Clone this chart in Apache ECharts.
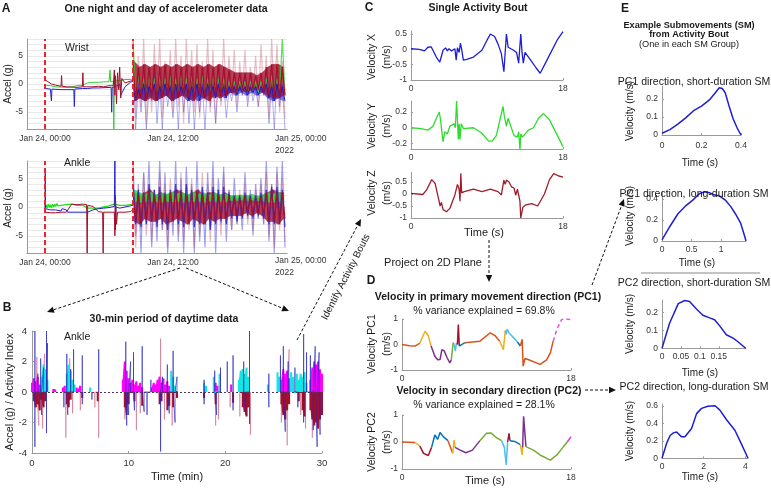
<!DOCTYPE html>
<html><head><meta charset="utf-8">
<script src="https://cdn.jsdelivr.net/npm/echarts@6.0.0/dist/echarts.min.js"></script>
<style>html,body{margin:0;padding:0;background:#fff}#c{width:771px;height:488px}</style>
</head><body><div id="c"></div>
<script>
// ================= DATA =================
// Panel A : hours since Jan 24 00:00 (night section = [hour, g])
const wristNightBlue = [[0,-0.8],[0.5,-0.9],[0.6,-3],[0.65,-0.9],[1.5,-1],[2,-1],[2.7,-1],[2.75,-4],[2.8,-0.9],[3.5,-0.8],[4,-0.8],[4.5,-0.7],[5,-0.7],[6.2,-0.6],[6.25,-5],[6.3,-0.6],[6.6,-0.5],[7,0],[7.1,-2],[7.5,-0.5],[8,0.3],[8.25,0.5]];
const wristNightRed = [[0,0.8],[0.2,0.5],[0.6,0],[1,-0.2],[1.5,-0.4],[1.55,1.5],[1.6,-0.4],[2,-0.5],[3,-0.6],[3.5,-0.5],[3.55,2],[3.6,-0.5],[4.5,-0.5],[5,-0.4],[5.5,-0.5],[6,-0.3],[6.4,-0.3],[6.5,2.5],[6.55,-2],[6.6,1.5],[6.7,-3.5],[6.8,2],[6.9,-1],[7.0,3],[7.1,-2.5],[7.2,1],[7.5,0.2],[8,0.5],[8.25,0.6]];
const wristNightGreen = [[0,-0.2],[0.5,-0.3],[1,-0.5],[2,-0.6],[2.5,-0.5],[3,-0.3],[3.5,-0.2],[4,0.2],[4.5,0.3],[5,0.3],[5.5,0.4],[6,0.4],[6.1,2.5],[6.15,0.4],[6.4,0.5],[6.45,-8],[6.5,0.5],[7,0.6],[7.5,0.8],[8,0.8],[8.25,0.7]];
const ankleNightGreen = [[0,0],[0.1,0.4],[0.2,-0.2],[0.3,0.5],[0.4,-0.1],[0.5,0.4],[0.6,-0.2],[0.7,0.5],[0.8,0],[0.9,0.5],[1.0,0.1],[1.1,0.6],[1.2,0.2],[1.3,0.5],[1.5,0.3],[2,0.4],[2.5,0.5],[3,0.3],[3.5,0.3],[4,-0.2],[5,-0.2],[5.5,0],[6,0.2],[6.5,0.5],[7,0.3],[7.5,0.3],[8,0.4],[8.25,0.5]];
const ankleNightBlue = [[0,-0.3],[0.02,6],[0.05,-0.3],[0.5,-0.5],[1,-0.5],[1.5,-0.7],[1.6,-0.3],[2,-0.5],[2.1,-0.9],[3,-0.9],[4,-0.9],[4.5,-0.5],[5,-0.3],[5.5,-0.2],[6,-0.1],[6.5,0.1],[6.55,8],[6.6,-4],[6.65,0],[7,-0.2],[7.5,0],[8,0.2],[8.25,0.3]];
const ankleNightRed = [[0,-0.9],[0.5,-1],[1,-1],[1.5,-0.9],[2,-0.9],[2.5,0.5],[3,0.4],[3.5,0.5],[3.9,0.4],[3.95,-8],[4,0.3],[4.5,0.1],[5,-0.8],[5.4,-0.9],[5.45,-8],[5.5,-0.9],[6,-0.9],[6.5,-0.9],[6.55,-5],[6.6,2],[6.7,-3],[6.8,-0.9],[7.5,-0.9],[8,-0.8],[8.25,-0.5]];
// Daytime samples: start 08:15, one value every 15 min
const dayStart = 8.25, dayStep = 0.25;
const wristRedLight = [8,-6,5,-4,8,-7,3,-5,7,-3, 8,-6,4,-2,6,-5,8,-4,5,-7, 8,-3,6,-5,7,-6,4,-3,8,-5, 6,-7,3,-4,8,-3,5,-2,6,-4, 4,-2,6,-3,3,-2,5,-4,7,-2, 5,-6,8,-3,7,-5,4,-6];
const wristRedCore = [4,-3,3,-2.5,3.5,-3,3,-2.5,3.5,-3, 3,-2.5,3.5,-2,3,-3,3.5,-2.5,3,-2, 3.5,-2.5,3,-3,3.5,-2,3,-2.5,3.5,-3, 3,-2,3.5,-2.5,3,-2,2.5,-1.5,2,-1.5, 2,-1,2,-1.5,2,-1,1.5,-1,2,-1.5, 3,-2,3.5,-2.5,3.5,-2.5,3,-2];
const wristBlueLight = [3,-8,0,-5,1,-8,-1,-3,2,-7, 0,-8,1,-4,-1,-6,0,-8,2,-5, 0,-7,1,-8,-1,-5,0,-8,1,-4, 0,-7,1,-3,0,-6,-1,-3,0,-5, 0,-2,1,-4,0,-3,-1,-4,0,-2, 1,-7,0,-8,2,-4,0,-8];
const wristBlueCore = [0,-3,-1,-2.5,0,-3,-0.5,-2,0,-3, -0.5,-2.5,0,-2,-0.5,-3,0,-2.5,-0.5,-2, 0,-3,-0.5,-2.5,0,-3,-0.5,-2.5,0,-2, -0.5,-2.5,0,-2,-0.5,-2.5,-0.5,-1.5,-0.5,-2, -0.5,-1.5,-0.5,-2,-0.5,-1.5,-0.5,-2,-0.5,-1.5, 0,-2.5,-0.5,-3,0,-2.5,-0.5,-3];
const wristGreen = [8,-2,1.5,-1.5,1,-2,1.5,-1,1,-2, 1.5,-1.5,1,-1,1.5,-2,1,-1.5,1.5,-1, 1,-1.5,1.5,-2,1,-1,1.5,-1.5,1,-2, 1.5,-1,1,-1.5,1,-1,0.5,-1,0.5,-1.5, 0.5,-1,0.5,-1.5,0.5,-1,0.5,-1.5,0.5,-1, 1,-1.5,1.5,-2,1,-1.5,8,-2];
const ankleBlueLight = [8,-5,4,-8,6,-3,8,-7,3,-6, 8,-4,6,-8,2,-5,8,-6,5,-8, 7,-3,4,-8,8,-6,3,-7,6,-4, 8,-8,5,-3,7,-6,3,-4,5,-3, 2,-4,6,-2,3,-5,4,-2,5,-3, 8,-6,4,-8,7,-3,8,-7];
const ankleBlueCore = [4,-3,3,-3.5,2.5,-3,4,-2.5,3,-3.5, 3.5,-3,2.5,-4,3,-2.5,4,-3,3,-3.5, 4,-2.5,3,-3.5,2.5,-3,3.5,-3,2.5,-4, 3.5,-3,3,-2.5,3.5,-3,2.5,-2,2,-2.5, 2,-2,2.5,-1.5,2,-2,2,-1.5,2.5,-2, 3,-3,3.5,-3,3.5,-2.5,3,-3.5];
const ankleGreen = [3,1,2.5,0.8,2.2,1,2.6,0.9,2.1,1, 2.5,0.8,2.2,1,2.6,0.9,2.3,1,2.5,0.8, 2.1,1,2.6,0.9,2.2,1,2.5,0.8,2.1,1, 2.5,0.9,2.1,1,2.3,0.9,2,1.1,2,1.1, 2.1,1.2,1.9,1.1,2.2,1.2,1.9,1.1,2.1,1.1, 2.5,0.9,2.2,0.8,2.6,1,2.1,0.8];
const ankleRedLight = [5,-7,3,-4,6,-5,4,-6,3,-3, 6,-4,4,-7,5,-3,3,-5,6,-6, 4,-4,5,-7,3,-5,6,-3,4,-6, 5,-4,3,-5,6,-3,3,-4,2,-3, 3,-2,4,-3,2,-4,3,-2,4,-3, 6,-5,4,-7,6,-4,5,-6];
const ankleRedCore = [2.5,-2.5,2,-3,2.5,-2,3,-2.5,2,-2.5, 2.5,-2,2,-3,2.5,-2.5,3,-2,2.5,-2.5, 2,-3,2.5,-2,3,-2.5,2,-3,2.5,-2, 2.5,-2.5,2,-2,2.5,-2,2,-1.5,1.5,-1.5, 1.5,-1.5,2,-1,1.5,-1.5,1.5,-1,2,-1.5, 2.5,-2.5,3,-2.5,2.5,-3,2.5,-2];
const dashedEventHours = [0, 8.25];
const aTickHours = [0, 12];
const aTickLabels = ['Jan 24, 00:00', 'Jan 24, 12:00'];

// Panel B : [minute, value]
const bBlue = [[0.3,4],[0.3,-3.6],[0.6,1.2],[0.9,2.2],[1.0,-1.5],[1.2,1.6],[1.5,4],[1.5,-2.7],[1.6,3.2],[3.3,-1],[3.6,2.5],[3.7,-1.5],[4.0,1.5],[4.3,2.8],[5.2,2.4],[5.2,-0.8],[6.2,-0.5],[6.9,2.8],[9.7,3.3],[9.8,-2.2],[10.0,-1.5],[10.2,2],[10.5,2.6],[10.6,-1.2],[11.4,3],[11.6,-1.3],[11.9,-1.5],[12.3,0.8],[13.3,-3.9],[13.5,1],[14.0,1.8],[14.2,-1.4],[14.6,2.7],[14.8,-2],[15.0,1],[17.8,0.8],[17.8,-0.8],[18.9,1.4],[19.1,-1.5],[19.5,1.6],[20.2,2],[20.8,2.4],[20.8,-1.2],[21.9,2],[22.1,-1.5],[22.5,4],[22.5,-2.1],[24.5,1.2],[24.5,-1],[25.7,2.4],[26.0,3],[26.2,-2.6],[26.5,2],[27.2,1.6],[27.5,-1],[28.1,3.8],[28.1,-2],[28.4,2.6],[28.8,2.4],[29.1,-2.5],[29.3,3],[29.5,-3.6],[29.7,2.6],[29.8,-2.8]];
const bPink = [[0.5,2.3],[0.7,-2.2],[1.1,-2.4],[1.3,2.5],[3.5,-3],[3.9,2.2],[4.2,-1.4],[5.0,-1.2],[6.5,-1],[6.9,-3],[9.6,-1.8],[10.8,-2.5],[11.2,-1.4],[13.3,3.5],[13.7,-1.8],[14.5,-2.2],[19.0,-2.2],[19.3,-1.8],[20.5,-1],[21.5,-1.6],[22.6,-2.8],[25.8,-2],[26.4,-3.5],[26.6,2.8],[27.8,-1.5],[28.3,-2.4],[29.0,-3],[29.6,-2]];
const bMagenta = [[0.0,0.6],[0.2,0.9],[0.4,0.7],[0.6,1.0],[0.8,0.5],[1.0,0.4],[2.2,0.2],[2.4,0.15],[3.2,0.3],[3.4,0.4],[4.6,0.3],[4.8,0.2],[5.0,0.4],[9.4,0.8],[9.6,2.0],[9.8,1.4],[10.0,0.9],[10.2,0.6],[10.4,0.8],[10.6,0.5],[10.8,0.7],[11.0,0.4],[11.2,0.6],[11.4,0.3],[12.4,0.3],[12.6,0.6],[12.8,0.5],[13.0,0.8],[13.2,1.0],[13.4,0.6],[13.6,0.9],[13.8,0.5],[14.0,0.7],[14.2,0.4],[19.0,0.6],[19.2,0.4],[20.6,0.5],[25.8,0.8],[26.0,1.5],[26.2,1.2],[26.4,1.4],[26.6,0.9],[26.8,0.5],[28.8,0.8],[29.0,1.6],[29.2,2.0],[29.4,1.8],[29.6,2.0],[29.8,1.5],[30.0,1.2]];
const bCyan = [[1.0,1.0],[1.2,1.8],[1.4,1.5],[1.6,0.8],[3.6,1.2],[3.8,1.8],[4.0,1.4],[4.2,0.8],[4.4,0.5],[6.0,0.3],[14.4,1.4],[14.6,1.0],[14.8,0.4],[17.8,0.6],[18.0,0.4],[18.8,1.0],[19.4,1.2],[21.4,0.8],[21.6,1.4],[21.8,1.5],[22.0,1.2],[22.2,1.6],[22.4,1.0],[24.4,0.5],[25.4,1.3],[25.6,1.0],[26.8,1.3],[27.0,1.0],[27.4,1.2],[27.6,0.8],[27.8,1.2],[28.0,1.0],[28.2,1.3],[28.4,0.6]];
const bDarkRed = [[0.2,-0.6],[0.4,-1.0],[0.6,-0.8],[0.8,-1.2],[1.0,-0.5],[1.2,-1.0],[1.4,-0.6],[3.6,-0.8],[3.8,-1.0],[4.0,-0.5],[5.2,-0.4],[6.8,-0.6],[9.6,-1.0],[9.8,-1.5],[10.0,-0.8],[10.6,-0.6],[11.4,-0.9],[13.2,-0.8],[13.4,-0.6],[14.0,-1.2],[14.2,-0.9],[14.6,-1.0],[15.0,-0.4],[17.8,-0.4],[19.0,-0.8],[20.8,-0.7],[21.8,-1.0],[22.0,-1.3],[22.2,-1.6],[22.4,-1.0],[25.8,-0.8],[26.0,-1.5],[26.2,-1.8],[26.4,-1.2],[26.6,-0.8],[27.6,-0.6],[28.0,-1.2],[28.2,-1.6],[28.8,-1.2],[29.0,-1.8],[29.2,-2.2],[29.4,-2.0],[29.6,-2.4],[29.8,-1.8],[30.0,-1.5]];

// Panel C : [seconds, m/s]
const velX = [[0,0.02],[1,0],[1.6,-0.05],[2,0.07],[2.4,0.08],[3,-0.25],[3.4,-0.42],[3.8,-0.03],[4.1,0.05],[4.3,-0.05],[4.5,0.02],[4.8,-0.05],[5.2,0.02],[5.35,-0.35],[5.5,0.05],[5.7,-0.1],[5.85,0.2],[6.0,0],[6.2,-0.35],[6.6,-0.33],[7.4,-0.25],[8.4,-0.03],[9.0,0.3],[9.4,0.5],[9.9,0.42],[10.3,0.18],[10.7,-0.14],[11.0,-0.73],[11.3,0.5],[11.5,0.07],[12.1,-0.02],[12.5,-0.1],[12.75,-0.45],[13.0,0.5],[13.15,-0.1],[13.3,-0.45],[13.5,-0.1],[14.3,-0.4],[14.8,-0.6],[15.3,-0.78],[16.1,-0.35],[17.3,0.3],[18,0.58]];
const velY = [[0,0],[1.2,-0.01],[2,-0.03],[2.6,0.02],[3,0.12],[3.35,0.2],[3.5,0.1],[3.65,-0.05],[3.8,-0.18],[4.0,-0.05],[4.3,-0.08],[4.6,0.02],[5.1,0.05],[5.25,0.0],[5.4,0.34],[5.5,0.1],[5.6,-0.15],[5.7,0.05],[5.8,-0.15],[5.95,0.05],[6.2,-0.01],[7.4,0],[8.4,-0.07],[9.2,-0.17],[9.6,-0.17],[10.1,-0.1],[10.9,0.27],[11.05,0.15],[11.3,0.02],[11.5,0.12],[11.7,0.1],[12.2,-0.1],[12.6,-0.12],[12.75,-0.05],[12.9,-0.28],[13.0,-0.08],[13.2,-0.12],[13.9,-0.03],[14.5,0],[15.1,0.12],[15.7,0.18],[16.4,0.1],[17.3,-0.09],[18,-0.24]];
const velZ = [[0,0.03],[1.4,-0.02],[1.85,0.17],[2.45,0.6],[2.85,0.45],[3.25,-0.18],[3.45,-0.5],[3.6,-0.35],[3.8,-0.65],[4.2,-0.74],[4.6,-0.6],[5.2,-0.04],[5.5,0.4],[5.7,0.2],[5.8,-0.3],[5.9,0.86],[6.0,0.05],[6.3,0.1],[7.4,0.2],[8.4,0.1],[9.4,0.2],[10.3,0.1],[10.7,-0.04],[11.0,0.58],[11.15,0.4],[11.3,0.58],[11.6,0.5],[11.9,0.3],[12.2,0.25],[12.4,-0.05],[12.6,0.2],[12.9,-0.3],[13.0,-1.0],[13.25,-0.55],[13.6,-0.45],[14.3,-0.4],[15.0,-0.5],[15.8,0],[16.4,0.6],[16.9,0.85],[17.5,0.75],[18,0.7]];

// Panel D : [seconds, m/s] and SM-group segments [t0, t1, group]
const pc1 = [[0,0],[0.8,-0.05],[1.4,-0.06],[1.9,0.05],[2.45,0.52],[2.8,0.35],[3.1,-0.06],[3.5,-0.46],[3.8,-0.6],[4.05,-0.59],[4.25,-0.2],[4.5,-0.25],[4.8,-0.52],[5.1,-0.72],[5.25,-0.6],[5.45,0.07],[5.55,0.0],[5.68,-0.26],[5.8,0.05],[5.9,0.0],[6.0,0.78],[6.1,-0.06],[6.3,0.0],[6.7,0.07],[8.3,0.13],[9.4,0.46],[9.9,0.35],[10.4,0.13],[10.8,-0.2],[11.0,0.55],[11.1,0.4],[11.2,0.6],[11.4,0.45],[11.9,0.26],[12.3,0.1],[12.6,-0.06],[12.8,0.2],[12.9,-0.85],[13.1,-0.55],[13.5,-0.6],[14.7,-0.78],[15.4,-0.6],[15.8,-0.33],[16.1,0.13],[16.5,0.6],[17.0,0.98],[17.5,1.0],[18,0.98]];
const pc1Segments = [[0,1.9,'orange'],[1.9,3.1,'yellow'],[3.1,5.25,'purple'],[5.25,5.55,'green'],[5.55,5.9,'lightblue'],[5.9,6.1,'darkred'],[6.1,6.7,'blue'],[6.7,10.4,'orange'],[10.4,11.0,'yellow'],[11.0,12.3,'lightblue'],[12.3,12.6,'blue'],[12.6,16.1,'orange'],[16.1,18,'pink']];
const pc2 = [[0,0],[1.4,-0.02],[1.9,-0.15],[2.3,-0.42],[2.8,-0.5],[3.15,-0.2],[3.5,0.26],[3.8,0.1],[4.05,0.35],[4.4,0.2],[4.9,0.05],[5.4,-0.42],[5.55,0.07],[5.65,-0.2],[6.2,-0.3],[6.8,-0.4],[7.5,-0.3],[8.3,0.05],[9.0,0.32],[9.5,0.33],[10.1,0.15],[10.6,0.05],[10.9,-0.2],[11.1,-0.85],[11.25,0.0],[11.4,0.32],[11.5,0.05],[12.0,0.02],[12.6,-0.1],[12.8,-0.48],[12.85,-0.2],[12.95,0.95],[13.2,-0.17],[14.0,-0.3],[14.7,-0.48],[15.8,-0.67],[16.5,-0.48],[17.2,-0.17],[17.6,0.0],[18,0.2]];
const pc2Segments = [[0,1.4,'orange'],[1.4,1.9,'yellow'],[1.9,3.15,'darkred'],[3.15,4.9,'blue'],[4.9,5.4,'orange'],[5.4,5.65,'yellow'],[5.65,8.3,'purple'],[8.3,10.6,'green'],[10.6,11.25,'lightblue'],[11.25,11.5,'darkred'],[11.5,12.6,'blue'],[12.6,12.85,'yellow'],[12.85,13.2,'purple'],[13.2,17.6,'green'],[17.6,18,'magenta']];

// Panel E : [seconds, m/s]
const smPC1Short = [[0,0.01],[0.04,0.03],[0.08,0.06],[0.12,0.095],[0.16,0.135],[0.2,0.16],[0.24,0.195],[0.27,0.235],[0.29,0.262],[0.305,0.258],[0.32,0.235],[0.34,0.16],[0.36,0.09],[0.38,0.04],[0.4,0]];
const smPC1Long = [[0,0.01],[0.13,0.136],[0.27,0.26],[0.41,0.34],[0.52,0.39],[0.63,0.45],[0.72,0.47],[0.8,0.46],[0.88,0.44],[0.97,0.43],[1.07,0.39],[1.16,0.33],[1.24,0.26],[1.33,0.17],[1.4,0.04],[1.42,0]];
const smPC2Short = [[0,0],[0.02,0.14],[0.043,0.25],[0.06,0.267],[0.073,0.262],[0.091,0.22],[0.108,0.185],[0.126,0.17],[0.139,0.16],[0.153,0.124],[0.17,0.076],[0.188,0.057],[0.2,0.038],[0.221,0]];
const smPC2Long = [[0,0],[0.22,0.17],[0.39,0.26],[0.55,0.29],[0.7,0.3],[0.94,0.245],[1.1,0.245],[1.42,0.34],[1.66,0.51],[1.9,0.57],[2.2,0.595],[2.55,0.6],[2.78,0.55],[3.1,0.44],[3.5,0.32],[3.8,0.17],[4.13,0]];

// ================= RENDER =================
const F = '"Liberation Sans", Arial, Helvetica, sans-serif';
const AX = '#9a9a9a', TX = '#333';
const C = {orange:'#D95319', yellow:'#EDB120', purple:'#7E2F8E', green:'#77AC30', lightblue:'#4DBEEE', blue:'#0072BD', darkred:'#A2142F', pink:'#e54de5', magenta:'#e033e0'};

function merge(a, b) { const o = Object.assign({}, a); for (const k in b) { o[k] = (b[k] && typeof b[k] === 'object' && !Array.isArray(b[k]) && typeof a[k] === 'object') ? merge(a[k], b[k]) : b[k]; } return o; }
function axis(gi, o) {
  return merge({type:'value', gridIndex:gi,
    axisLine:{show:true, onZero:false, lineStyle:{color:AX, width:1}},
    axisTick:{show:true, inside:true, length:2, lineStyle:{color:AX}},
    axisLabel:{color:TX, fontSize:8.5, fontFamily:F, margin:4, hideOverlap:false},
    splitLine:{show:false}}, o);
}
const grids = [
  {left:27, top:39, width:260, height:90},
  {left:27, top:161, width:260, height:92},
  {left:32, top:331, width:290, height:122},
  {left:411, top:31, width:152, height:49},
  {left:411, top:101, width:152, height:48},
  {left:411, top:172.4, width:152, height:45.6},
  {left:402, top:319, width:169, height:51},
  {left:402, top:415, width:169, height:54},
  {left:662, top:86.4, width:79, height:48.6},
  {left:662, top:191.7, width:84, height:49.3},
  {left:662, top:300, width:84, height:48.3},
  {left:662, top:404, width:86, height:54.3}
];
const aX = gi => axis(gi, {min:-1.69, max:22.69, axisTick:{show:false}, axisLabel:{customValues:aTickHours, formatter:v => aTickLabels[aTickHours.indexOf(v)], margin:5}});
const aY = gi => axis(gi, {min:-8, max:8, interval:1, axisTick:{show:false}, axisLabel:{formatter:v => (v % 5 === 0 ? String(v) : '')}, splitLine:{show:true, lineStyle:{color:'#e9e9e9', width:1}}});
const cX = gi => axis(gi, {min:0, max:18, axisLabel:{customValues:[0,18], margin:4}, axisTick:{customValues:[0,18]}});
const xAxes = [aX(0), aX(1),
  axis(2, {min:0, max:30, interval:10, axisLabel:{fontSize:9.5, margin:5}}),
  cX(3), cX(4), cX(5), cX(6), cX(7),
  axis(8, {min:0, max:0.4, axisLabel:{customValues:[0,0.2,0.4], margin:6}, axisTick:{customValues:[0,0.2,0.4]}}),
  axis(9, {min:0, max:1.42, axisLabel:{customValues:[0,0.5,1], margin:4}, axisTick:{customValues:[0,0.5,1]}}),
  axis(10, {min:0, max:0.222, axisLabel:{customValues:[0,0.05,0.1,0.15], margin:4}, axisTick:{customValues:[0,0.05,0.1,0.15]}}),
  axis(11, {min:0, max:4.13, axisLabel:{customValues:[0,2,4], margin:4}, axisTick:{customValues:[0,2,4]}})
];
const cv = (gi, mn, mx, vals, extra) => axis(gi, merge({min:mn, max:mx, axisLabel:{customValues:vals}, axisTick:{customValues:vals}}, extra || {}));
const yAxes = [aY(0), aY(1),
  axis(2, {min:-4, max:4, interval:2, axisLabel:{fontSize:9.5, margin:5}}),
  cv(3, -1, 0.6, [-1,-0.5,0,0.5]),
  cv(4, -0.27, 0.34, [-0.2,0,0.2]),
  cv(5, -1, 0.9, [-1,-0.5,0,0.5]),
  cv(6, -1, 1, [-1,0,1]),
  cv(7, -1, 1, [-1,0,1]),
  cv(8, 0, 0.27, [0,0.1,0.2]),
  cv(9, 0, 0.47, [0,0.2,0.4]),
  cv(10, 0, 0.27, [0,0.1,0.2]),
  cv(11, 0, 0.62, [0,0.2,0.4,0.6])
];

function ls(gi, data, color, width, extra) {
  return merge({type:'line', xAxisIndex:gi, yAxisIndex:gi, data:data, symbol:'none', showSymbol:false, silent:true, clip:true, connectNulls:false, lineStyle:{color:color, width:width}}, extra || {});
}
const dayPts = arr => arr.map((v, i) => [dayStart + dayStep * i, v]);
// dense-signal envelope: each (high, low) pair of a day array becomes a band vertex; polygons via the axes' scales
function band(gi, arr, color, op) {
  const pts = [];
  for (let k = 0; k + 1 < arr.length; k += 2) {
    const t = dayStart + dayStep * (k + 0.5), a = arr[k], b = arr[k + 1];
    pts.push([t, Math.min(a, b), Math.max(a, b)]);
  }
  const data = [];
  for (let i = 0; i + 1 < pts.length; i++) data.push(pts[i].concat(pts[i + 1]));
  return {type:'custom', xAxisIndex:gi, yAxisIndex:gi, silent:true, clip:true, data:data,
    encode:{x:[0,3], y:[1,2,4,5]},
    renderItem:(params, api) => ({type:'polygon', shape:{points:[
      api.coord([api.value(0), api.value(2)]), api.coord([api.value(3), api.value(5)]),
      api.coord([api.value(3), api.value(4)]), api.coord([api.value(0), api.value(1)])]},
      style:{fill:color, opacity:op, stroke:color, lineWidth:0.6}})};
}
function spikes(pairs, gap) {
  const s = pairs.slice().sort((a, b) => a[0] - b[0]); const out = []; let prev = null;
  for (const [m, v] of s) { if (prev !== null && m - prev > gap) out.push([m, '-']); out.push([m, 0], [m, v], [m, 0]); prev = m; }
  return out;
}
const redDash = {markLine:{symbol:'none', silent:true, label:{show:false}, animation:false, lineStyle:{color:'#e8262c', type:[5,3], width:2}, data:dashedEventHours.map(h => ({xAxis:h}))}};

const series = [];
// ---- A wrist
series.push(ls(0, dayPts(wristBlueLight), 'rgba(50,50,215,0.38)', 1));
series.push(ls(0, dayPts(wristRedLight), 'rgba(190,70,100,0.35)', 1.2));
series.push(ls(0, dayPts(wristGreen), 'rgba(40,215,40,0.75)', 1.2));
series.push(band(0, wristBlueCore, '#2a2ac8', 0.6));
series.push(ls(0, dayPts(wristBlueCore), '#1c1cc0', 1));
series.push(band(0, wristRedCore, '#a3102c', 0.8));
series.push(ls(0, dayPts(wristRedCore), '#a3102c', 1.2));
series.push(ls(0, wristNightGreen, '#33cc33', 1));
series.push(ls(0, wristNightBlue, '#2222cc', 1));
series.push(ls(0, wristNightRed, '#a3102c', 1, redDash));
// ---- A ankle
series.push(ls(1, dayPts(ankleBlueLight), 'rgba(50,50,215,0.45)', 1.2));
series.push(ls(1, dayPts(ankleRedLight), 'rgba(190,70,100,0.38)', 1.2));
series.push(ls(1, dayPts(ankleBlueCore), 'rgba(30,30,190,0.8)', 1.2));
series.push(band(1, ankleRedCore, '#a3102c', 0.8));
series.push(band(1, ankleGreen, '#2ee02e', 0.85));
series.push(ls(1, dayPts(ankleRedCore), '#a3102c', 1.1));
series.push(ls(1, ankleNightGreen, '#22dd22', 1.3));
series.push(ls(1, ankleNightBlue, '#2222cc', 1));
series.push(ls(1, ankleNightRed, '#a3102c', 1, redDash));
// ---- B
series.push(ls(2, spikes(bPink, 0.6), 'rgba(200,90,120,0.5)', 1));
series.push(ls(2, spikes(bDarkRed, 0.6), '#a3102c', 2));
series.push(ls(2, spikes(bMagenta, 0.6), '#ff00ff', 2));
series.push(ls(2, spikes(bCyan, 0.6), '#10e6e6', 2));
series.push(ls(2, spikes(bBlue, 0.6), 'rgba(40,40,190,0.65)', 1, {markLine:{symbol:'none', silent:true, label:{show:false}, animation:false, lineStyle:{color:'#553355', type:[2,2], width:1}, data:[{yAxis:0}]}}));
// ---- C
series.push(ls(3, velX, '#1d1dd6', 1.3));
series.push(ls(4, velY, '#2edc2e', 1.3));
series.push(ls(5, velZ, '#a01c2c', 1.3));
// ---- D
function segs(gi, data, list) {
  list.forEach(([t0, t1, g]) => {
    const pts = data.filter(p => p[0] >= t0 - 1e-9 && p[0] <= t1 + 1e-9);
    series.push(ls(gi, pts, C[g], 1.5, g === 'pink' ? {lineStyle:{type:[4,3]}} : {}));
  });
}
segs(6, pc1, pc1Segments);
segs(7, pc2, pc2Segments);
// ---- E
series.push(ls(8, smPC1Short, '#1f1fd2', 1.5));
series.push(ls(9, smPC1Long, '#1f1fd2', 1.5));
series.push(ls(10, smPC2Short, '#1f1fd2', 1.5));
series.push(ls(11, smPC2Long, '#1f1fd2', 1.5));

// ---- text & annotations
const G = [];
function txt(x, y, s, size, o) {
  o = o || {};
  G.push({type:'text', x:x, y:y, rotation:o.rot || 0, z:100,
    style:{text:s, font:(o.bold ? 'bold ' : '') + size + 'px ' + F, fill:o.color || '#1a1a1a',
      textAlign:o.align || 'center', align:o.align || 'center', textVerticalAlign:'middle', verticalAlign:'middle', lineHeight:o.lh || size * 1.3}});
}
function arrow(x1, y1, x2, y2) {
  const dx = x2 - x1, dy = y2 - y1, L = Math.hypot(dx, dy), ux = dx / L, uy = dy / L, h = 7, w = 3.2;
  const bx = x2 - ux * h, by = y2 - uy * h;
  G.push({type:'line', z:100, shape:{x1:x1, y1:y1, x2:bx, y2:by}, style:{stroke:'#111', lineWidth:1, lineDash:[3,2]}});
  G.push({type:'polygon', z:100, shape:{points:[[x2, y2], [bx - uy * w, by + ux * w], [bx + uy * w, by - ux * w]]}, style:{fill:'#111'}});
}
const R = Math.PI / 2;
// panel letters
txt(6, 9, 'A', 12, {bold:true}); txt(7, 308, 'B', 12, {bold:true}); txt(369, 8, 'C', 12, {bold:true});
txt(371, 281, 'D', 12, {bold:true}); txt(625, 9, 'E', 12, {bold:true});
// A
txt(166, 9, 'One night and day of accelerometer data', 10.5, {bold:true});
txt(65, 48, 'Wrist', 10.5, {align:'left'}); txt(64, 163, 'Ankle', 10.5, {align:'left'});
txt(8, 84, 'Accel (g)', 10, {rot:R}); txt(8, 208, 'Accel (g)', 10, {rot:R});
txt(275, 139, 'Jan 25, 00:00', 8.5, {align:'left', color:TX}); txt(275, 151, '2022', 8.5, {align:'left', color:TX});
txt(275, 261, 'Jan 25, 00:00', 8.5, {align:'left', color:TX}); txt(275, 273, '2022', 8.5, {align:'left', color:TX});
// B
txt(164, 319, '30-min period of daytime data', 10.5, {bold:true});
txt(64, 337, 'Ankle', 10.5, {align:'left'});
txt(10, 392, 'Accel (g) / Activity Index', 11, {rot:R});
txt(177, 477, 'Time (min)', 11);
// C
txt(478, 8, 'Single Activity Bout', 10.5, {bold:true});
txt(380, 57, 'Velocity X\n(m/s)', 10.5, {rot:R, lh:15});
txt(380, 126, 'Velocity Y\n(m/s)', 10.5, {rot:R, lh:15});
txt(380, 193, 'Velocity Z\n(m/s)', 10.5, {rot:R, lh:15});
txt(484, 233, 'Time (s)', 11);
txt(433, 263, 'Project on 2D Plane', 11);
// D
txt(488, 297, 'Velocity in primary movement direction (PC1)', 10.5, {bold:true});
txt(484, 311, '% variance explained = 69.8%', 10.5);
txt(489, 391, 'Velocity in secondary direction (PC2)', 10.5, {bold:true});
txt(484, 405, '% variance explained = 28.1%', 10.5);
txt(380, 344, 'Velocity PC1\n(m/s)', 10.5, {rot:R, lh:15});
txt(380, 442, 'Velocity PC2\n(m/s)', 10.5, {rot:R, lh:15});
txt(485, 481, 'Time (s)', 11);
// E
txt(689, 25, 'Example Submovements (SM)', 9.2, {bold:true});
txt(689, 34, 'from Activity Bout', 9.2, {bold:true});
txt(689, 44, '(One in each SM Group)', 9.2);
txt(694, 82, 'PC1 direction, short-duration SM', 10.5);
txt(694, 194, 'PC1 direction, long-duration SM', 10.5);
txt(694, 283, 'PC2 direction, short-duration SM', 10.5);
txt(694, 387, 'PC2 direction, long-duration SM', 10.5);
[111, 216, 324, 431].forEach(y => txt(630, y, 'Velocity (m/s)', 10, {rot:R}));
txt(700, 163, 'Time (s)', 10); txt(697, 263, 'Time (s)', 10); txt(700, 373, 'Time (s)', 10); txt(700, 477, 'Time (s)', 10);
G.push({type:'line', z:100, shape:{x1:641, y1:273, x2:760, y2:273}, style:{stroke:'#888', lineWidth:1}});
// arrows
arrow(180, 268, 47, 312);
arrow(186, 268, 289, 311);
arrow(297, 340, 361, 219);
txt(346, 277, 'Identify Activity Bouts', 10, {rot:1.098});
arrow(489, 240, 489, 282);
arrow(592, 285, 624, 199);
arrow(585, 390, 616, 390);

const chart = echarts.init(document.getElementById('c'), null, {renderer:'canvas'});
chart.setOption({animation:false, backgroundColor:'#fff', textStyle:{fontFamily:F}, grid:grids.map(g => Object.assign({containLabel:false}, g)), xAxis:xAxes, yAxis:yAxes, series:series, graphic:{elements:G}});
</script></body></html>
